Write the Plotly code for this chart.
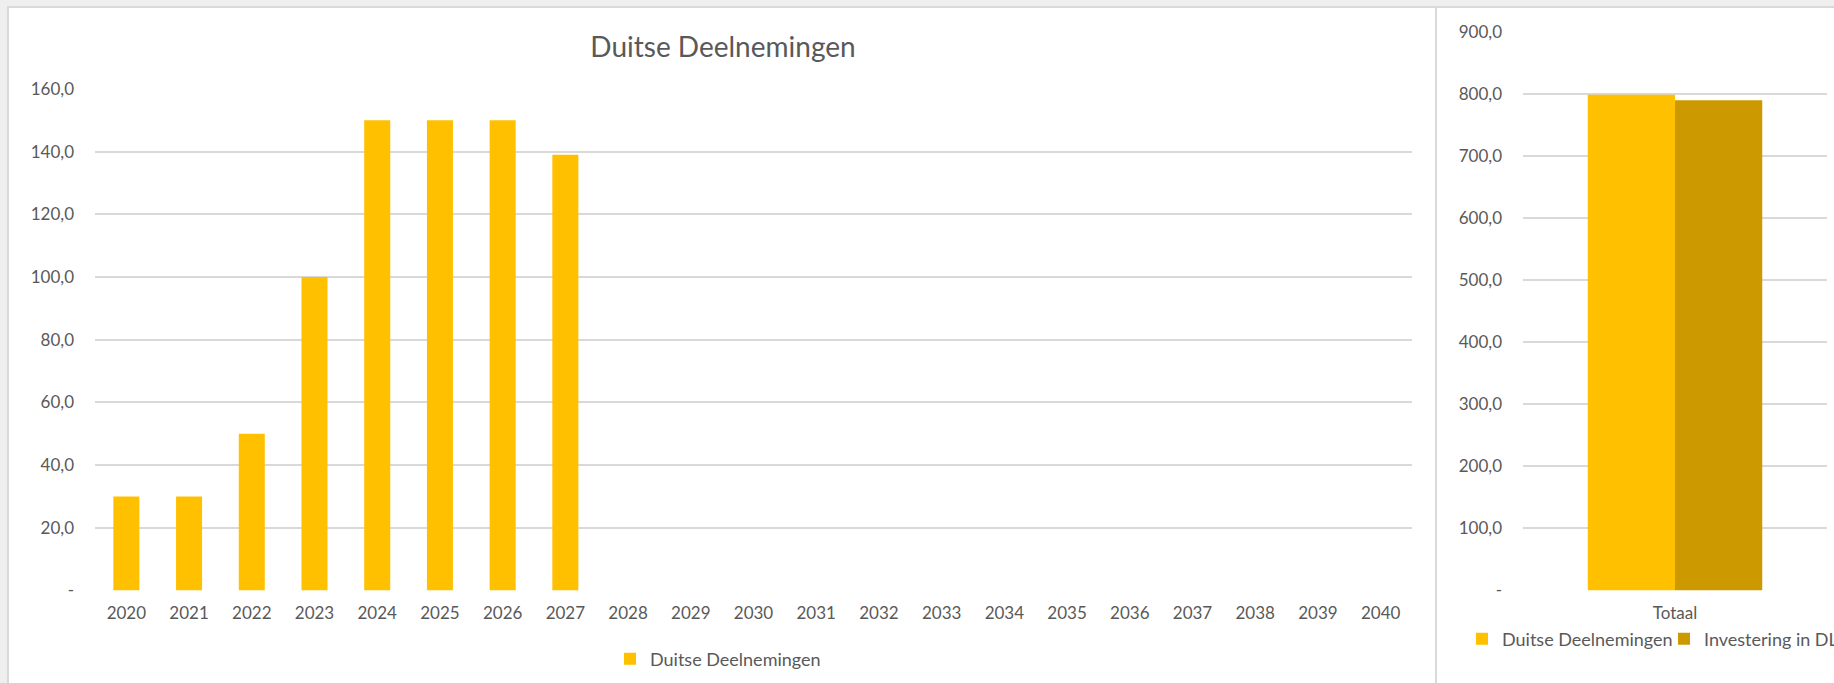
import plotly.graph_objects as go

# ---- data ----
years = [str(y) for y in range(2020, 2041)]
duitse_deelnemingen = [30, 30, 50, 100, 150, 150, 150, 139, 0, 0, 0, 0, 0, 0, 0, 0, 0, 0, 0, 0, 0]
left_tickvals = [0, 20, 40, 60, 80, 100, 120, 140, 160]
left_ticktext = ["-", "20,0", "40,0", "60,0", "80,0", "100,0", "120,0", "140,0", "160,0"]

totaal_cat = ["Totaal"]
totaal_duitse = [799]
totaal_investering = [790]
right_tickvals = [0, 100, 200, 300, 400, 500, 600, 700, 800, 900]
right_ticktext = ["-", "100,0", "200,0", "300,0", "400,0", "500,0", "600,0", "700,0", "800,0", "900,0"]

title_text = "Duitse Deelnemingen"
name_duitse = "Duitse Deelnemingen"
name_invest = "Investering in DL"

# ---- style ----
W, H = 1834, 683
FONT = "Lato"
TXT = "#595959"
GRID = "#d9d9d9"
YELLOW = "#FFC000"
DARK = "#CC9900"

def px_x(p):
    return p / W

def px_y(p):
    return 1 - p / H

fig = go.Figure()

fig.add_trace(go.Bar(
    x=years, y=duitse_deelnemingen, name=name_duitse,
    marker=dict(color=YELLOW, line=dict(width=0)),
    xaxis="x", yaxis="y", legend="legend",
))

bw = 0.287
fig.add_trace(go.Bar(
    x=totaal_cat, y=totaal_duitse, name=name_duitse,
    marker=dict(color=YELLOW, line=dict(width=0)),
    width=bw, offset=-bw,
    xaxis="x2", yaxis="y2", legend="legend2",
))
fig.add_trace(go.Bar(
    x=totaal_cat, y=totaal_investering, name=name_invest,
    marker=dict(color=DARK, line=dict(width=0)),
    width=bw, offset=0,
    xaxis="x2", yaxis="y2", legend="legend2",
))

tickfont = dict(family=FONT, size=17, color=TXT)

fig.update_layout(
    template="none",
    width=W, height=H,
    margin=dict(l=0, r=0, t=0, b=0, pad=0, autoexpand=False),
    paper_bgcolor="#efefef",
    plot_bgcolor="rgba(0,0,0,0)",
    font=dict(family=FONT, size=17, color=TXT),
    bargap=0.585,
    barmode="group",
    title=dict(
        text=title_text, x=px_x(723), y=px_y(47),
        xanchor="center", yanchor="middle",
        font=dict(family=FONT, size=28, color=TXT),
    ),
    xaxis=dict(
        domain=[px_x(95), px_x(1412)], anchor="y", automargin=False,
        type="category", showgrid=False, showline=False, zeroline=False,
        ticks="", tickfont=tickfont, ticklabelstandoff=10, fixedrange=True,
    ),
    yaxis=dict(
        domain=[px_y(590.5), px_y(89)], anchor="x", automargin=False,
        range=[0, 160], tickvals=left_tickvals, ticktext=left_ticktext,
        showgrid=True, gridcolor=GRID, gridwidth=1.5,
        showline=False, zeroline=False, ticks="",
        tickfont=tickfont, ticklabelstandoff=20,
    ),
    xaxis2=dict(
        domain=[px_x(1523), px_x(1827)], anchor="y2", automargin=False,
        type="category", showgrid=False, showline=False, zeroline=False,
        ticks="", tickfont=tickfont, ticklabelstandoff=10,
    ),
    yaxis2=dict(
        domain=[px_y(590.5), px_y(32)], anchor="x2", automargin=False,
        range=[0, 900], tickvals=right_tickvals, ticktext=right_ticktext,
        showgrid=True, gridcolor=GRID, gridwidth=1.5,
        showline=False, zeroline=False, ticks="",
        tickfont=tickfont, ticklabelstandoff=20,
    ),
    legend=dict(
        x=px_x(610), y=px_y(659), xanchor="left", yanchor="middle",
        orientation="h", bgcolor="rgba(0,0,0,0)",
        font=dict(family=FONT, size=18, color=TXT),
    ),
    legend2=dict(
        x=px_x(1462), y=px_y(639), xanchor="left", yanchor="middle",
        orientation="h", bgcolor="rgba(0,0,0,0)",
        entrywidth=157, entrywidthmode="pixels",
        font=dict(family=FONT, size=18, color=TXT),
    ),
    shapes=[
        dict(type="rect", xref="paper", yref="paper",
             x0=px_x(8), x1=px_x(W + 20), y0=px_y(H + 20), y1=px_y(7),
             fillcolor="white", line=dict(color=GRID, width=2), layer="below"),
        dict(type="line", xref="paper", yref="paper",
             x0=px_x(1436), x1=px_x(1436), y0=px_y(H + 20), y1=px_y(7),
             line=dict(color=GRID, width=2), layer="below"),
    ],
    showlegend=True,
)

fig.write_html("out.html", config={"displayModeBar": False},
               post_script="document.body.style.margin='0px';")
